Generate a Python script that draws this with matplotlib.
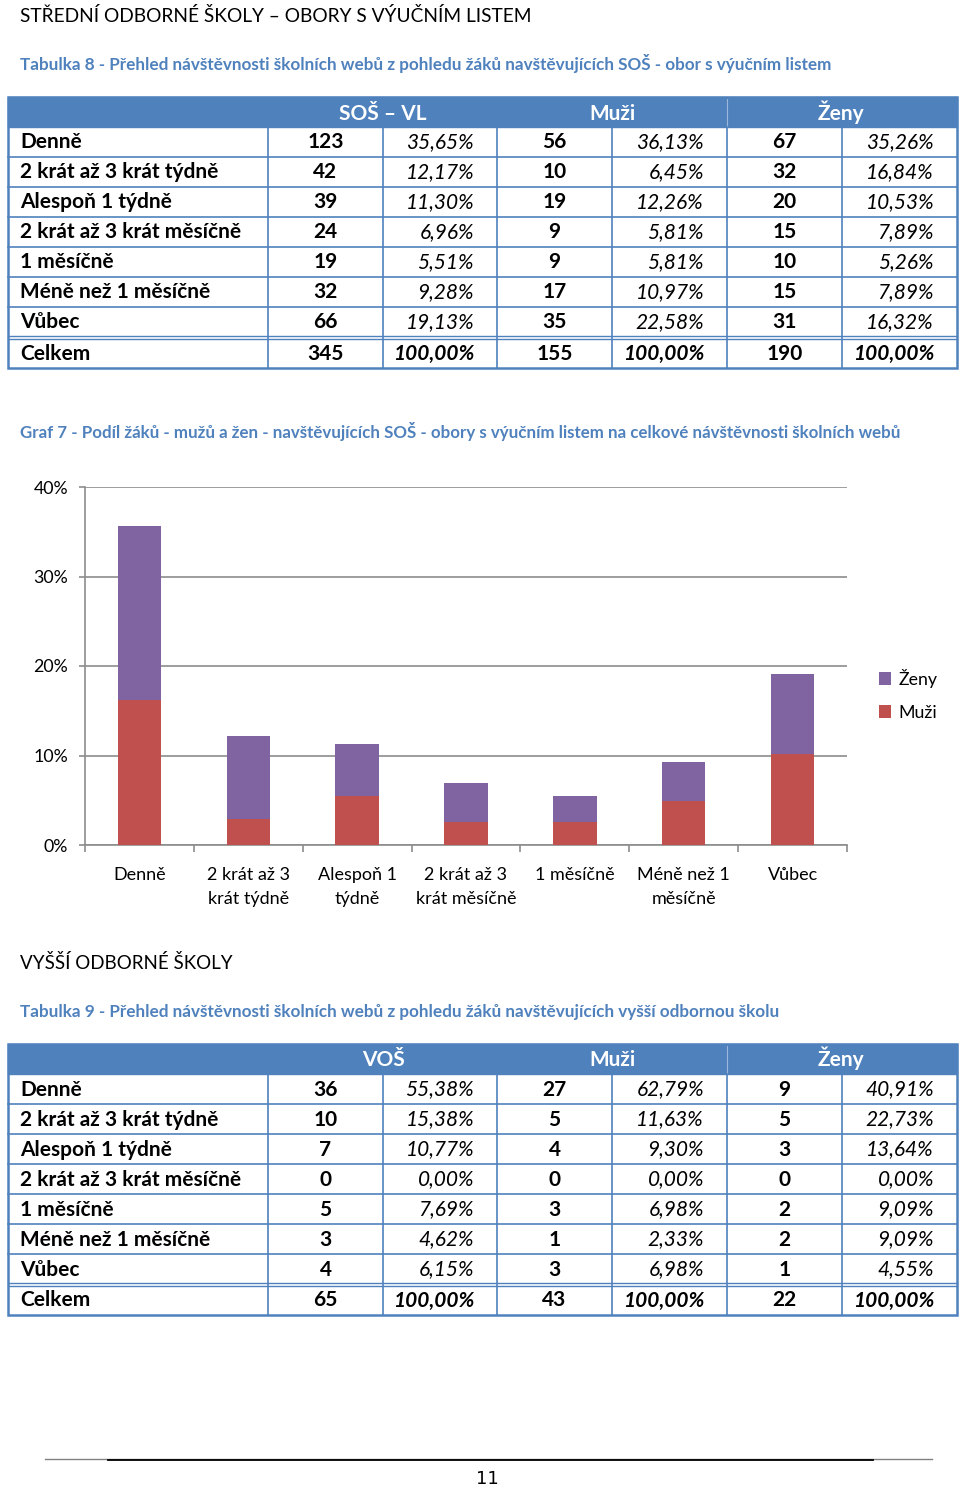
import matplotlib.pyplot as plt
import numpy as np

plt.rcParams['font.family'] = ['Lato', 'DejaVu Sans']

BLUE = '#4F81BD'
RED = '#C0504D'
PURPLE = '#8064A2'
GRID = '#8C8C8C'

rows = ['Denně', '2 krát až 3 krát týdně', 'Alespoň 1 týdně', '2 krát až 3 krát měsíčně',
        '1 měsíčně', 'Méně než 1 měsíčně', 'Vůbec', 'Celkem']

# Tabulka 8 - SOŠ s výučním listem
sos_all = [123, 42, 39, 24, 19, 32, 66, 345]
sos_all_pct = ['35,65%', '12,17%', '11,30%', '6,96%', '5,51%', '9,28%', '19,13%', '100,00%']
sos_muzi = [56, 10, 19, 9, 9, 17, 35, 155]
sos_muzi_pct = ['36,13%', '6,45%', '12,26%', '5,81%', '5,81%', '10,97%', '22,58%', '100,00%']
sos_zeny = [67, 32, 20, 15, 10, 15, 31, 190]
sos_zeny_pct = ['35,26%', '16,84%', '10,53%', '7,89%', '5,26%', '7,89%', '16,32%', '100,00%']

# Tabulka 9 - VOŠ
vos_all = [36, 10, 7, 0, 5, 3, 4, 65]
vos_all_pct = ['55,38%', '15,38%', '10,77%', '0,00%', '7,69%', '4,62%', '6,15%', '100,00%']
vos_muzi = [27, 5, 4, 0, 3, 1, 3, 43]
vos_muzi_pct = ['62,79%', '11,63%', '9,30%', '0,00%', '6,98%', '2,33%', '6,98%', '100,00%']
vos_zeny = [9, 5, 3, 0, 2, 2, 1, 22]
vos_zeny_pct = ['40,91%', '22,73%', '13,64%', '0,00%', '9,09%', '9,09%', '4,55%', '100,00%']

# Graf 7 - categories (share of all SOŠ pupils)
chart_labels = ['Denně', '2 krát až 3\nkrát týdně', 'Alespoň 1\ntýdně', '2 krát až 3\nkrát měsíčně',
                '1 měsíčně', 'Méně než 1\nměsíčně', 'Vůbec']

fig = plt.figure(figsize=(9.6, 14.86), dpi=100)
page = fig.add_axes([0, 0, 1, 1])
page.set_xlim(0, 960)
page.set_ylim(1486, 0)
page.axis('off')

cols = [8, 268, 383, 497, 612, 727, 842, 957]
FS = 15
BL = 7.5  # baseline offset from row centre (px)


def draw_table(top, head, counts, pcts):
    hdr_bot = top + 30
    page.add_patch(plt.Rectangle((cols[0], top), cols[-1] - cols[0], 30, color=BLUE, zorder=1))
    page.plot([727, 727], [top + 2, hdr_bot], color='#9DB7DA', lw=0.8, zorder=2)
    for name, cx in zip(head, [383, 612, 841]):
        page.text(cx, top + 15 + BL, name, color='white', fontsize=FS, fontweight='bold',
                  ha='center', va='baseline', zorder=3)
    ys = [hdr_bot + 30 * i for i in range(8)]
    bottom = ys[-1] + 31
    for i, name in enumerate(rows):
        y0 = ys[i] + (1 if i == 7 else 0)
        by = y0 + 14 + BL
        italic_w = 'bold' if i == 7 else 'normal'
        page.text(20, by, name, fontsize=FS, fontweight='bold', ha='left', va='baseline')
        for k in range(3):
            c0, c1, c2 = cols[1 + 2 * k], cols[2 + 2 * k], cols[3 + 2 * k]
            page.text((c0 + c1) / 2, by, str(counts[k][i]), fontsize=FS, fontweight='bold',
                      ha='center', va='baseline')
            page.text(c2 - 23, by, pcts[k][i], fontsize=FS, style='italic', fontweight=italic_w,
                      ha='right', va='baseline')
    # horizontal lines
    for i in range(1, 7):
        page.plot([cols[0], cols[-1]], [ys[i], ys[i]], color=BLUE, lw=1.2)
    page.plot([cols[0], cols[-1]], [ys[7] - 1.5, ys[7] - 1.5], color=BLUE, lw=1.0)
    page.plot([cols[0], cols[-1]], [ys[7] + 1.5, ys[7] + 1.5], color=BLUE, lw=1.0)
    for x in cols[1:-1]:
        page.plot([x, x], [hdr_bot, bottom], color=BLUE, lw=1.2)
    page.add_patch(plt.Rectangle((cols[0], top), cols[-1] - cols[0], bottom - top,
                                 fill=False, edgecolor=BLUE, lw=1.8, zorder=4))


page.text(20, 22, 'STŘEDNÍ ODBORNÉ ŠKOLY – OBORY S VÝUČNÍM LISTEM', fontsize=13.8,
          ha='left', va='baseline')
page.text(20, 70, 'Tabulka 8 - Přehled návštěvnosti školních webů z pohledu žáků navštěvujících SOŠ - obor s výučním listem',
          fontsize=12.3, color=BLUE, fontweight='bold', ha='left', va='baseline')
draw_table(97, ['SOŠ – VL', 'Muži', 'Ženy'],
           [sos_all, sos_muzi, sos_zeny], [sos_all_pct, sos_muzi_pct, sos_zeny_pct])

page.text(20, 438, 'Graf 7 - Podíl žáků - mužů a žen - navštěvujících SOŠ - obory s výučním listem na celkové návštěvnosti školních webů',
          fontsize=12.2, color=BLUE, fontweight='bold', ha='left', va='baseline')

page.text(20, 969, 'VYŠŠÍ ODBORNÉ ŠKOLY', fontsize=13.5, ha='left', va='baseline')
page.text(20, 1017, 'Tabulka 9 - Přehled návštěvnosti školních webů z pohledu žáků navštěvujících vyšší odbornou školu',
          fontsize=12.3, color=BLUE, fontweight='bold', ha='left', va='baseline')
draw_table(1044, ['VOŠ', 'Muži', 'Ženy'],
           [vos_all, vos_muzi, vos_zeny], [vos_all_pct, vos_muzi_pct, vos_zeny_pct])

# footer
page.plot([45, 932], [1459, 1459], color='#808080', lw=1.0)
page.plot([108, 873], [1459.5, 1459.5], color='black', lw=1.3)
page.text(487, 1484, '11', fontsize=13, ha='center', va='baseline',
          family=['Liberation Sans Narrow', 'DejaVu Sans'])

# chart
total = sos_all[-1]
muzi_share = np.array(sos_muzi[:7]) / total * 100
zeny_share = np.array(sos_zeny[:7]) / total * 100

ax = fig.add_axes([85 / 960, (1486 - 845) / 1486, 762 / 960, 358 / 1486])
x = np.arange(len(chart_labels))
b1 = ax.bar(x, muzi_share, 0.4, color=RED, label='Muži', zorder=3)
b2 = ax.bar(x, zeny_share, 0.4, bottom=muzi_share, color=PURPLE, label='Ženy', zorder=3)
ax.set_xlim(-0.5, 6.5)
ax.set_ylim(0, 40)
ax.set_yticks([0, 10, 20, 30, 40])
ax.set_yticklabels(['0%', '10%', '20%', '30%', '40%'], fontsize=12.8)
ax.yaxis.grid(True, color=GRID, lw=1.2)
ax.set_axisbelow(True)
ax.set_xticks(x)
ax.set_xticklabels(chart_labels, fontsize=13, linespacing=1.65)
ax.set_xticks(np.arange(-0.5, 7, 1), minor=True)
ax.tick_params(axis='x', which='major', length=0, pad=15.5)
ax.tick_params(axis='x', which='minor', length=5, color=GRID, width=1.2)
ax.tick_params(axis='y', length=4, color=GRID, width=1.2, pad=8)
for s in ['top', 'right']:
    ax.spines[s].set_visible(False)
ax.spines['left'].set_color(GRID)
ax.spines['bottom'].set_color(GRID)
ax.spines['left'].set_linewidth(1.2)
ax.spines['bottom'].set_linewidth(1.2)

fig.legend([b2, b1], ['Ženy', 'Muži'], loc='upper left', bbox_to_anchor=(870 / 960, 1 - 660 / 1486),
           frameon=False, fontsize=12.8, handlelength=0.7, handleheight=0.7, handletextpad=0.4,
           labelspacing=0.95, borderpad=0)

fig.savefig('out.png', dpi=100)
